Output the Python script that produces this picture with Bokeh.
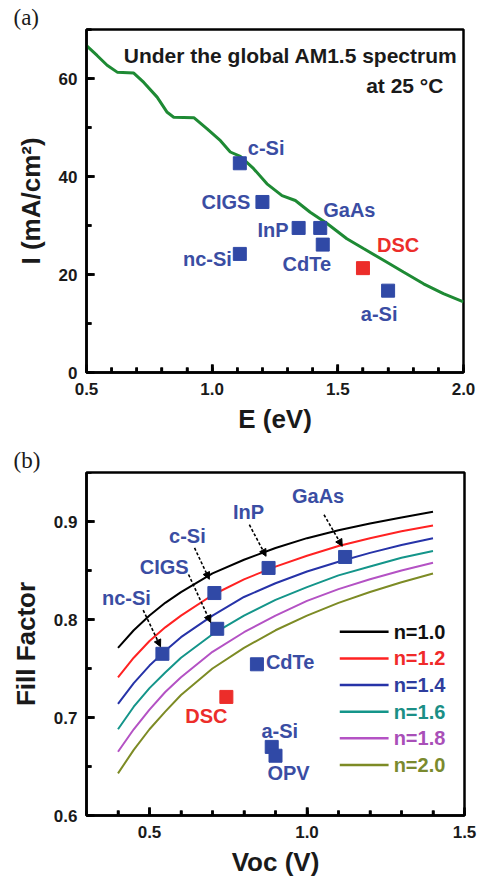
import numpy as np
from bokeh.plotting import figure
from bokeh.layouts import column
from bokeh.models import (ColumnDataSource, SingleIntervalTicker, NumeralTickFormatter,
                          Arrow, NormalHead, Label, Range1d)
from bokeh.core.properties import value
from bokeh.embed import file_html
from bokeh.resources import INLINE

# ---------------- Panel (a) data ----------------
limit_E = [0.500, 0.542, 0.582, 0.622, 0.688, 0.728, 0.781, 0.821, 0.847, 0.927,
           0.980, 1.033, 1.072, 1.112, 1.165, 1.218, 1.278, 1.331, 1.390, 1.457,
           1.536, 1.602, 1.682, 1.761, 1.841, 1.920, 2.000]
limit_I = [66.7, 64.7, 62.7, 61.3, 61.1, 59.2, 56.2, 53.1, 52.1, 52.0,
           49.7, 47.3, 45.0, 44.1, 41.6, 38.5, 36.1, 35.1, 32.7, 30.4,
           27.3, 25.3, 22.9, 20.5, 18.1, 16.1, 14.4]

cells_a = ["c-Si", "CIGS", "InP", "GaAs", "CdTe", "nc-Si", "DSC", "a-Si"]
cells_a_E = [1.11, 1.20, 1.344, 1.43, 1.44, 1.11, 1.60, 1.70]
cells_a_I = [42.7, 34.8, 29.5, 29.5, 26.1, 24.2, 21.3, 16.7]

# ---------------- Panel (b) data ----------------
voc_grid = [0.40, 0.45, 0.50, 0.55, 0.60, 0.70, 0.80, 0.90, 1.00, 1.10, 1.20, 1.30, 1.40]
ff_n10 = [0.771, 0.789, 0.804, 0.817, 0.828, 0.847, 0.861, 0.873, 0.883, 0.891, 0.898, 0.904, 0.910]
ff_n12 = [0.741, 0.761, 0.778, 0.792, 0.804, 0.825, 0.841, 0.854, 0.865, 0.875, 0.883, 0.890, 0.896]
ff_n14 = [0.714, 0.735, 0.753, 0.768, 0.782, 0.804, 0.823, 0.837, 0.849, 0.859, 0.868, 0.876, 0.883]
ff_n16 = [0.688, 0.711, 0.730, 0.746, 0.761, 0.785, 0.804, 0.820, 0.833, 0.845, 0.854, 0.863, 0.870]
ff_n18 = [0.665, 0.688, 0.708, 0.726, 0.741, 0.767, 0.787, 0.804, 0.819, 0.831, 0.841, 0.850, 0.858]
ff_n20 = [0.643, 0.667, 0.688, 0.706, 0.723, 0.750, 0.771, 0.789, 0.804, 0.817, 0.828, 0.838, 0.847]
ideality_labels = ["n=1.0", "n=1.2", "n=1.4", "n=1.6", "n=1.8", "n=2.0"]

cells_b = ["nc-Si", "CIGS", "c-Si", "InP", "GaAs", "CdTe", "DSC", "a-Si", "OPV"]
cells_b_voc = [0.541, 0.715, 0.706, 0.878, 1.121, 0.841, 0.744, 0.888, 0.900]
cells_b_ff = [0.765, 0.7905, 0.827, 0.8526, 0.8638, 0.7543, 0.721, 0.670, 0.661]

# dashed pointer arrows (data coordinates)
arrow_voc_start = [0.480, 0.624, 0.643, 0.817, 1.054]
arrow_ff_start = [0.8096, 0.8459, 0.873, 0.8967, 0.9069]
arrow_voc_end = [0.535, 0.694, 0.690, 0.870, 1.112]
arrow_ff_end = [0.7722, 0.797, 0.841, 0.8645, 0.8747]

# ---------------- styles ----------------
FONT = "Liberation Sans"
BLUE = "#3049A6"
BLUE_TXT = "#3A4DA3"
RED = "#EC2D2A"
GREEN = "#1E8A34"
curve_colors = ["#000000", "#FF2222", "#2633A8", "#14958A", "#B452C4", "#7D8B25"]
legend_text_colors = ["#111111", "#F02A2A", "#2E3D9E", "#1B8F86", "#A94FB8", "#7A8A2E"]

FRAME_W, FRAME_H = 377, 343

# label placement (pixel offsets from marker, alignment)
lab_a = {"c-Si": (8, -15, "left"), "CIGS": (-12, 0, "right"), "InP": (-10, 2, "right"),
         "GaAs": (3, -18, "left"), "CdTe": (-16, 19, "center"), "nc-Si": (-8, 5, "right"),
         "DSC": (14, -23, "left"), "a-Si": (-9, 23, "center")}
lab_b = {"nc-Si": (-36, -56, "center"), "CIGS": (-53, -62, "center"), "c-Si": (-27, -57, "center"),
         "InP": (-20, -56, "center"), "GaAs": (-27, -61, "center"), "CdTe": (9, -2, "left"),
         "DSC": (-20, 19, "center"), "a-Si": (8, -16, "center"), "OPV": (13, 17, "center")}


def inward_ticks(p, x_lo, x_hi, x_major, x_minor, y_lo, y_hi, y_major, y_minor):
    """Inward-pointing ticks drawn as short segments starting at the frame edge."""
    def vals(lo, hi, step):
        n0 = int(np.ceil(lo / step - 1e-9))
        n1 = int(np.floor(hi / step + 1e-9))
        return [round(k * step, 6) for k in range(n0, n1 + 1)]
    dx = (x_hi - x_lo) / FRAME_W   # data units per pixel
    dy = (y_hi - y_lo) / FRAME_H
    majx = vals(x_lo, x_hi, x_major)
    majy = vals(y_lo, y_hi, y_major)
    xM = [v for v in majx if x_lo + 2 * dx < v < x_hi - 2 * dx]
    xm = [v for v in vals(x_lo, x_hi, x_minor)
          if min(abs(v - m) for m in majx) > 1e-6 and v > x_lo + 2 * dx]
    yM = [v for v in majy if y_lo + 2 * dy < v < y_hi - 2 * dy]
    ym = [v for v in vals(y_lo, y_hi, y_minor)
          if min(abs(v - m) for m in majy) > 1e-6 and v > y_lo + 2 * dy]
    src_x = ColumnDataSource(dict(x=xM + xm,
                                  y0=[y_lo + 0.5 * dy] * (len(xM) + len(xm)),
                                  y1=[y_lo + 8 * dy] * len(xM) + [y_lo + 5 * dy] * len(xm)))
    p.segment(x0="x", y0="y0", x1="x", y1="y1", source=src_x,
              line_color="black", line_width=2.5)
    src_y = ColumnDataSource(dict(y=yM + ym,
                                  x0=[x_lo + 0.5 * dx] * (len(yM) + len(ym)),
                                  x1=[x_lo + 8 * dx] * len(yM) + [x_lo + 5 * dx] * len(ym)))
    p.segment(x0="x0", y0="y", x1="x1", y1="y", source=src_y,
              line_color="black", line_width=2.5)


def style_axes(p, xt, yt, xfmt, yfmt, xlab, ylab, tag):
    p.xaxis.ticker = xt
    p.yaxis.ticker = yt
    p.xaxis.formatter = NumeralTickFormatter(format=xfmt)
    p.yaxis.formatter = NumeralTickFormatter(format=yfmt)
    p.xaxis.axis_label = xlab
    p.yaxis.axis_label = ylab
    for ax in (p.xaxis[0], p.yaxis[0]):
        ax.axis_line_width = 2.5
        ax.axis_line_color = "black"
        ax.major_tick_in = 8
        ax.major_tick_out = 0
        ax.minor_tick_in = 5
        ax.minor_tick_out = 0
        ax.major_tick_line_width = 2.5
        ax.minor_tick_line_width = 2.5
        ax.major_tick_line_color = "black"
        ax.minor_tick_line_color = "black"
        ax.major_label_text_font = FONT
        ax.major_label_text_font_style = "bold"
        ax.major_label_text_font_size = "17px"
        ax.major_label_text_color = "#1a1a1a"
        ax.axis_label_text_font = FONT
        ax.axis_label_text_font_style = "bold"
        ax.axis_label_text_font_size = "26px"
        ax.axis_label_text_color = "#1a1a1a"
    p.xaxis.major_label_standoff = 10
    p.yaxis.major_label_standoff = 9
    p.xaxis.axis_label_standoff = 6
    p.yaxis.axis_label_standoff = 10
    p.xgrid.visible = False
    p.ygrid.visible = False
    p.outline_line_color = "black"
    p.outline_line_width = 2.5
    p.title.text = tag
    p.title.text_font = "Liberation Serif"
    p.title.text_font_style = "normal"
    p.title.text_font_size = "23px"
    p.title.text_color = "#1a1a1a"
    p.title.align = "left"
    p.title.offset = -73
    p.title.standoff = 0


def add_cell_labels(p, names, xs, ys, offsets, red_name="DSC"):
    for n, x, y in zip(names, xs, ys):
        dx, dy, al = offsets[n]
        p.text(x=[x], y=[y], text=[n], x_offset=dx, y_offset=dy,
               text_align=al, text_baseline="middle",
               text_font=value(FONT), text_font_style="bold", text_font_size="20px",
               text_color=RED if n == red_name else BLUE_TXT)


# ================= Panel (a) =================
pa = figure(frame_width=FRAME_W, frame_height=FRAME_H, output_backend="svg", toolbar_location=None,
            x_range=Range1d(0.5, 2.0), y_range=Range1d(0, 70),
            min_border_left=86, min_border_right=15, min_border_top=29, min_border_bottom=68)
style_axes(pa, SingleIntervalTicker(interval=0.5, num_minor_ticks=5),
           SingleIntervalTicker(interval=20, num_minor_ticks=2), "0.0", "0",
           "E (eV)", "I (mA/cm²)", "(a)")
inward_ticks(pa, 0.5, 2.0, 0.5, 0.1, 0, 70, 20, 10)

pa.line(limit_E, limit_I, line_color=GREEN, line_width=3)
src_a = ColumnDataSource(dict(x=cells_a_E, y=cells_a_I, name=cells_a,
                              c=[RED if n == "DSC" else BLUE for n in cells_a]))
pa.scatter("x", "y", source=src_a, marker="square", size=13, fill_color="c", line_color="c")
add_cell_labels(pa, cells_a, cells_a_E, cells_a_I, lab_a)

pa.add_layout(Label(x=1.976, y=64.7, text="Under the global AM1.5 spectrum",
                    text_align="right", text_baseline="middle", text_font=FONT,
                    text_font_style="bold", text_font_size="21px", text_color="#1a1a1a"))
pa.add_layout(Label(x=1.92, y=58.6, text="at 25 °C",
                    text_align="right", text_baseline="middle", text_font=FONT,
                    text_font_style="bold", text_font_size="21px", text_color="#1a1a1a"))

# ================= Panel (b) =================
pb = figure(frame_width=FRAME_W + 1, frame_height=FRAME_H, output_backend="svg", toolbar_location=None,
            x_range=Range1d(0.3, 1.5), y_range=Range1d(0.6, 0.95),
            min_border_left=85, min_border_right=15, min_border_top=32, min_border_bottom=65)
style_axes(pb, SingleIntervalTicker(interval=0.5, num_minor_ticks=5),
           SingleIntervalTicker(interval=0.1, num_minor_ticks=2), "0.0", "0.0",
           "Voc (V)", "Fill Factor", "(b)")
inward_ticks(pb, 0.3, 1.5, 0.5, 0.1, 0.6, 0.95, 0.1, 0.05)

ff_curves = [ff_n10, ff_n12, ff_n14, ff_n16, ff_n18, ff_n20]
for ff, col in zip(ff_curves, curve_colors):
    pb.line(voc_grid, ff, line_color=col, line_width=2)

src_b = ColumnDataSource(dict(x=cells_b_voc, y=cells_b_ff, name=cells_b,
                              c=[RED if n == "DSC" else BLUE for n in cells_b]))
pb.scatter("x", "y", source=src_b, marker="square", size=13, fill_color="c", line_color="c")
add_cell_labels(pb, cells_b, cells_b_voc, cells_b_ff, lab_b)

for xs, ys, xe, ye in zip(arrow_voc_start, arrow_ff_start, arrow_voc_end, arrow_ff_end):
    pb.add_layout(Arrow(end=NormalHead(size=7, fill_color="black", line_color="black", line_width=1),
                        x_start=xs, y_start=ys, x_end=xe, y_end=ye,
                        line_color="black", line_width=1.6, line_dash="3 2"))

# manual legend
leg_x0, leg_x1, leg_tx = 1.104, 1.259, 1.275
leg_y0, leg_dy = 0.7875, 0.0272
for i, (lab, col, tcol) in enumerate(zip(ideality_labels, curve_colors, legend_text_colors)):
    yy = leg_y0 - i * leg_dy
    pb.segment(x0=[leg_x0], y0=[yy], x1=[leg_x1], y1=[yy], line_color=col, line_width=2.5)
    pb.text(x=[leg_tx], y=[yy], text=[lab], text_align="left", text_baseline="middle",
            text_font=value(FONT), text_font_style="bold", text_font_size="20px", text_color=tcol)

layout = column(pa, pb)
open("out.html", "w").write(file_html(layout, INLINE))
